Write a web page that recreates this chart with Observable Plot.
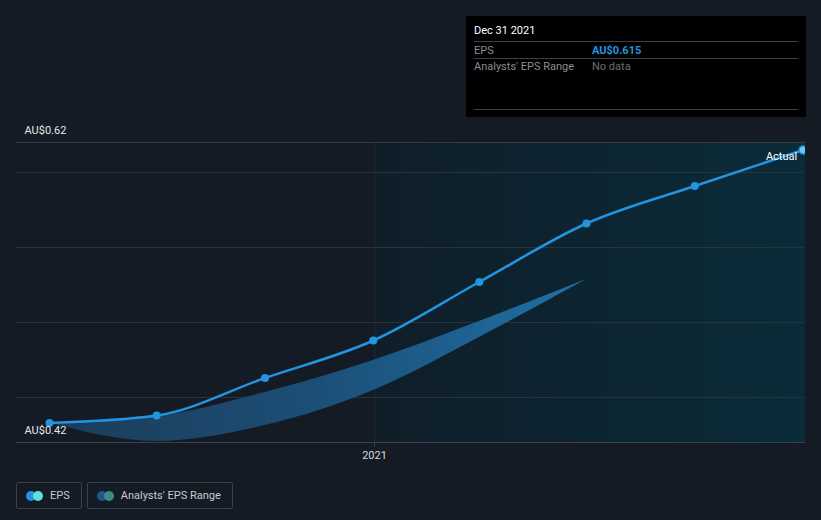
<!DOCTYPE html>
<html>
<head>
<meta charset="utf-8">
<script src="https://cdn.jsdelivr.net/npm/d3@7"></script>
<script src="https://cdn.jsdelivr.net/npm/@observablehq/plot@0.6"></script>
<style>
  html, body { margin: 0; padding: 0; background: #151b25; }
  body { width: 821px; height: 520px; overflow: hidden; font-family: Roboto, "Noto Sans", sans-serif; }
  #wrap { position: relative; width: 821px; height: 520px; }
  #chart { position: absolute; left: 0; top: 0; }
  #tip { position: absolute; left: 466px; top: 16px; width: 340px; height: 101px; background: #000; box-sizing: border-box; }
  #tip .t { position: absolute; left: 8px; top: 8px; color: #fff; font-size: 11px; }
  #tip .ln { position: absolute; left: 8px; right: 8px; height: 1px; background: #3c3f44; }
  #tip .row { position: absolute; left: 8px; font-size: 11px; color: #8a8d92; }
  #tip .val { position: absolute; left: 126px; font-size: 11px; }
  #legend { position: absolute; left: 16px; top: 482px; display: flex; gap: 5px; }
  .lg { height: 27px; box-sizing: border-box; border: 1px solid #3a3f48; border-radius: 2px; display: flex; align-items: center; padding: 0 11px 0 9px; color: #c8cacd; font-size: 11px; }
  .ic { position: relative; width: 17px; height: 10px; margin-right: 7px; }
  .ic span { position: absolute; top: 0; width: 10px; height: 10px; border-radius: 50%; }
</style>
</head>
<body>
<div id="wrap">
  <div id="chart"></div>
  <div id="tip">
    <div class="t" id="tipDate"></div>
    <div class="ln" style="top:25px"></div>
    <div class="row" style="top:28px">EPS</div>
    <div class="val" id="tipVal" style="top:28px;color:#2394df;font-weight:bold"></div>
    <div class="ln" style="top:42px"></div>
    <div class="row" style="top:44px">Analysts' EPS Range</div>
    <div class="val" style="top:44px;color:#6c6f74">No data</div>
    <div class="ln" style="top:93px"></div>
  </div>
  <div id="legend"></div>
</div>
<script>
// ---- data ----
const epsDates = ["2020-03-31","2020-06-30","2020-09-30","2020-12-31","2021-03-31","2021-06-30","2021-09-30","2021-12-31"];
const epsValues = [0.433, 0.438, 0.463, 0.488, 0.527, 0.566, 0.591, 0.615];
const rangeDates = ["2020-03-31","2020-06-30","2020-09-30","2020-12-31","2021-03-31","2021-06-30"];
const rangeLow = [0.433, 0.4207, 0.4313, 0.4547, 0.490, 0.5287];
const rangeHigh = [0.433, 0.4373, 0.4533, 0.4747, 0.5007, 0.5287];
const yGrid = [0.45, 0.50, 0.55, 0.60];
const yLabels = [0.42, 0.62];
const xTicks = ["2021-01-01"];
const xTickLabels = ["2021"];
const xDomain = ["2020-03-03", "2022-01-02"];
const forecastStart = "2021-01-01";
const tipDate = "Dec 31 2021";
const tipValue = "AU$0.615";
const legendItems = [
  {label: "EPS", c1: "#2394df", c2: "#5fe0d8"},
  {label: "Analysts' EPS Range", c1: "#1d5a8a", c2: "#3f8a86"}
];

const P = d => new Date(d + "T00:00:00Z");
const eps = epsDates.map((d, i) => ({date: P(d), v: epsValues[i]}));
const band = rangeDates.map((d, i) => ({date: P(d), lo: rangeLow[i], hi: rangeHigh[i]}));
const dom = xDomain.map(P);
const last = eps[eps.length - 1];

const chart = Plot.plot({
  width: 821,
  height: 470,
  marginLeft: 16,
  marginRight: 16,
  marginTop: 142,
  marginBottom: 28,
  style: {background: "transparent", fontFamily: "Roboto, 'Noto Sans', sans-serif", fontSize: "11px", color: "#e0e0e0"},
  x: {type: "utc", domain: dom, axis: null},
  y: {domain: [0.42, 0.62], axis: null},
  marks: [
    Plot.rect([{x1: P(forecastStart), x2: dom[1]}], {x1: "x1", x2: "x2", y1: 0.42, y2: 0.62, fill: "url(#fcGrad)"}),
    Plot.ruleY(yGrid, {stroke: "#2a323c", strokeWidth: 1}),
    Plot.ruleY([0.62], {stroke: "#363c45", strokeWidth: 1}),
    Plot.ruleY([0.42], {stroke: "#3c424b", strokeWidth: 1.2}),
    Plot.ruleX([P(forecastStart)], {y1: 0.42, y2: 0.62, stroke: "#1c2b35", strokeWidth: 1}),
    Plot.areaY(band, {x: "date", y1: "lo", y2: "hi", curve: "monotone-x", fill: "url(#bandGrad)"}),
    Plot.line(eps, {x: "date", y: "v", curve: "monotone-x", stroke: "#2394df", strokeWidth: 2.5}),
    Plot.dot(eps.slice(0, -1), {x: "date", y: "v", r: 4, fill: "#2394df"}),
    Plot.dot([last], {x: "date", y: "v", r: 4, fill: "#6cc8f2", stroke: "#2394df", strokeWidth: 1.5, clip: true}),
    Plot.text([last], {x: "date", y: "v", text: () => "Actual", textAnchor: "end", dx: -6, dy: 6, fill: "#ffffff", fontSize: 11}),
    Plot.text(yLabels, {x: dom[0], y: d => d, text: d => "AU$" + d.toFixed(2), textAnchor: "start", dx: 8, dy: -12, fill: "#e6e6e6", fontSize: 11}),
    Plot.axisX(xTicks.map(P), {tickFormat: (d, i) => xTickLabels[i], tickSize: 5, tickPadding: 4, stroke: "#3c424b", fill: "#d8d8d8", fontSize: 11, label: null})
  ]
});

const svg = d3.select(chart);
const defs = svg.insert("defs", ":first-child");
const g1 = defs.append("linearGradient").attr("id", "fcGrad").attr("x1", "0").attr("x2", "1").attr("y1", "0").attr("y2", "0");
g1.append("stop").attr("offset", "0").attr("stop-color", "#0f1e29");
g1.append("stop").attr("offset", "1").attr("stop-color", "#0a2b39");
const g2 = defs.append("linearGradient").attr("id", "bandGrad").attr("x1", "0").attr("x2", "1").attr("y1", "0").attr("y2", "0");
g2.append("stop").attr("offset", "0").attr("stop-color", "#1b3b58");
g2.append("stop").attr("offset", "0.5").attr("stop-color", "#1c4f77");
g2.append("stop").attr("offset", "1").attr("stop-color", "#2070a6");

document.getElementById("chart").appendChild(chart);
document.getElementById("tipDate").textContent = tipDate;
document.getElementById("tipVal").textContent = tipValue;

const lg = document.getElementById("legend");
legendItems.forEach(it => {
  const b = document.createElement("div");
  b.className = "lg";
  b.innerHTML = `<div class="ic"><span style="left:0;background:${it.c1}"></span><span style="left:7px;background:${it.c2}"></span></div>${it.label}`;
  lg.appendChild(b);
});
</script>
</body>
</html>
